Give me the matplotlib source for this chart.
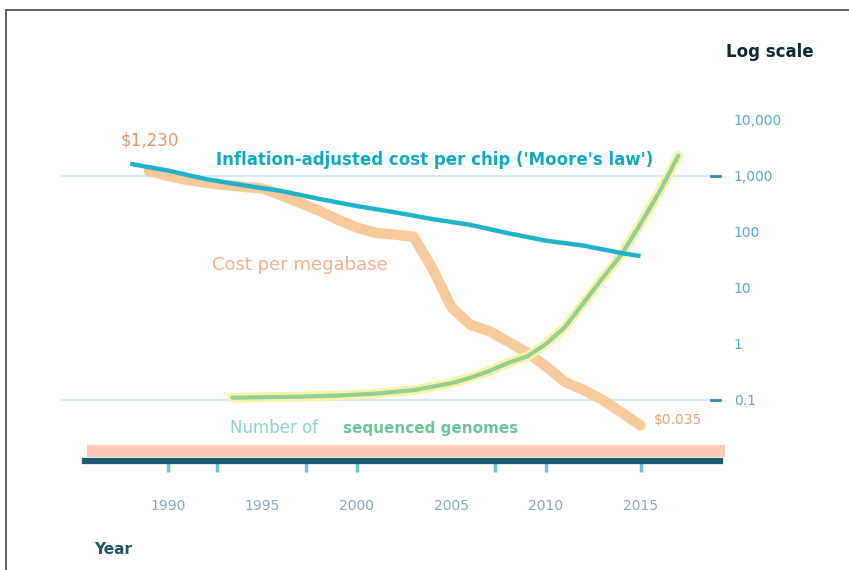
import matplotlib
matplotlib.use("Agg")
import matplotlib.pyplot as plt
from matplotlib.patches import Rectangle
import numpy as np

# ---------------- data ----------------
label_years = [1990, 1995, 2000, 2005, 2010, 2015]
tick_years = [1990, 1992.6, 1997.3, 2000, 2007.3, 2010, 2015]

y_ticks = [10000, 1000, 100, 10, 1, 0.1]
y_ticklabels = ["10,000", "1,000", "100", "10", "1", "0.1"]

orange_years = [1989, 1990, 1991, 1992, 1993, 1994, 1995, 1996, 1997, 1998,
                1999, 2000, 2001, 2002, 2003, 2004, 2005, 2006, 2007, 2008,
                2009, 2010, 2011, 2012, 2013, 2014, 2015]
orange_vals = [1230, 1000, 850, 760, 690, 640, 600, 450, 330, 240,
               165, 120, 96, 90, 82, 22, 4.5, 2.2, 1.7, 1.1,
               0.7, 0.4, 0.21, 0.15, 0.1, 0.06, 0.035]

blue_years = [1988, 1990, 1992, 1994, 1996, 1998, 2000, 2002, 2004, 2006,
              2008, 2010, 2012, 2014, 2015]
blue_vals = [1650, 1250, 880, 680, 540, 390, 290, 225, 170, 134,
             95, 70, 57, 42, 37]

green_years = [1993.4, 1995, 1997, 1999, 2001, 2003, 2005, 2006, 2007, 2008,
               2009, 2010, 2011, 2012, 2013, 2014, 2015, 2016, 2017]
green_vals = [0.11, 0.112, 0.115, 0.12, 0.13, 0.15, 0.2, 0.25, 0.33, 0.46,
              0.6, 1.0, 2.0, 5.5, 15, 40, 140, 520, 2300]

ref_levels = [1000, 0.1]

start_label = "$1,230"
end_label = "$0.035"
blue_title = "Inflation-adjusted cost per chip ('Moore's law')"
orange_title = "Cost per megabase"
green_title_a = "Number of"
green_title_b = "sequenced genomes"

# ---------------- figure ----------------
W, H = 849, 570
fig = plt.figure(figsize=(W / 100, H / 100), dpi=100)
fig.patch.set_facecolor("white")

def fx(px):
    return px / W

def fy(py):
    return 1 - py / H

# frame border (top & left)
fig.add_artist(plt.Line2D([fx(6), fx(849)], [fy(10), fy(10)], color="#555555", lw=1.3))
fig.add_artist(plt.Line2D([fx(6), fx(6)], [fy(10), fy(570)], color="#555555", lw=1.3))

left_px, right_px, top_px, bot_px = 85, 720, 100, 461
ax = fig.add_axes([fx(left_px), fy(bot_px), (right_px - left_px) / W, (bot_px - top_px) / H])

def year_of(px):
    return 1990 + (px - 168) / 18.9

def log_of(py):
    return 4 - (py - 120) / 56.0

ax.set_xlim(year_of(left_px), year_of(right_px))
ax.set_yscale("log")
ax.set_ylim(10 ** log_of(bot_px), 10 ** log_of(top_px))

for s in ["top", "left", "right"]:
    ax.spines[s].set_visible(False)
ax.spines["bottom"].set_color("#1d5a6b")
ax.spines["bottom"].set_linewidth(4.5)

# pink band above axis
ax.add_patch(Rectangle((0.003, 0.011), 1.005, 0.033, transform=ax.transAxes,
                       color="#f8cbb6", lw=0, clip_on=False, zorder=1))

# reference lines
for lv in ref_levels:
    ax.axhline(lv, xmin=(62 - left_px) / (right_px - left_px), xmax=1.0,
               color="#d3e9f5", lw=1.6, clip_on=False, zorder=1)
    ax.axhline(lv, xmin=(711 - left_px) / (right_px - left_px), xmax=1.0,
               color="#2f8fb8", lw=2, clip_on=False, zorder=2)

# lines
ax.plot(orange_years, orange_vals, color="#f7c590", lw=7.5, alpha=0.9,
        solid_capstyle="round", solid_joinstyle="round", zorder=3)
ax.plot(green_years, green_vals, color="#fbf3a6", lw=7, solid_capstyle="round", zorder=4)
ax.plot(green_years, green_vals, color="#93cf96", lw=3, solid_capstyle="round", zorder=5)
ax.plot(blue_years, blue_vals, color="#1fb2cb", lw=3.2, solid_capstyle="butt", zorder=5)

# x ticks
ax.xaxis.remove_overlapping_locs = False
ax.set_xticks(label_years)
ax.set_xticklabels([str(y) for y in label_years])
ax.tick_params(axis="x", which="major", length=0, pad=27, labelsize=10, labelcolor="#86a9bb")
ax.set_xticks(tick_years, minor=True)
ax.tick_params(axis="x", which="minor", length=8, width=2.5, color="#6cc0e0", direction="out")
for t, yv in zip(ax.xaxis.get_minor_ticks(), tick_years):
    if abs(yv - 1997.3) < 0.01 or abs(yv - 2015) < 0.01:
        t.tick1line.set_color("#2c7f99")

# y ticks (right)
ax.yaxis.tick_right()
ax.set_yticks(y_ticks)
ax.set_yticklabels(y_ticklabels)
ax.yaxis.set_minor_locator(matplotlib.ticker.NullLocator())
ax.tick_params(axis="y", length=0, pad=10, labelsize=10, labelcolor="#5fa3c5")
for lab in ax.get_yticklabels():
    lab.set_horizontalalignment("left")

# texts
fig.text(fx(770), fy(52), "Log scale", ha="center", va="center", fontsize=12,
         fontweight="bold", color="#0b2a33")
fig.text(fx(113), fy(550), "Year", ha="center", va="center", fontsize=11,
         fontweight="bold", color="#1d5568")
fig.text(fx(150), fy(140), start_label, ha="center", va="center", fontsize=12,
         color="#e8976a")
fig.text(fx(678), fy(420), end_label, ha="center", va="center", fontsize=10,
         color="#e8a070")
fig.text(fx(435), fy(160), blue_title, ha="center", va="center", fontsize=12,
         fontweight="bold", color="#12a9c4")
fig.text(fx(300), fy(265), orange_title, ha="center", va="center", fontsize=13,
         color="#eeb08f")
fig.text(fx(230), fy(428), green_title_a, ha="left", va="center", fontsize=12,
         color="#8fd0d0")
fig.text(fx(343), fy(428), green_title_b, ha="left", va="center", fontsize=11,
         fontweight="bold", color="#6cc49a")

fig.savefig("out.png", dpi=100, facecolor="white")
